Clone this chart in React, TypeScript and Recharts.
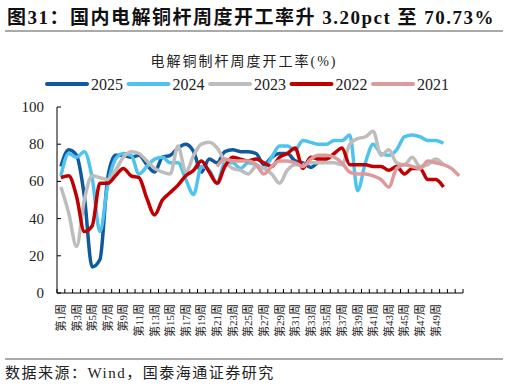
import { LineChart, Line, XAxis, YAxis } from "recharts";

const WEEKS = Array.from({ length: 52 }, (_, i) => `第${i + 1}周`);
// the source only labels odd weeks up to week 49
const LAST_LABELLED = 49;

// weekly rod-mill run rate, % (2025 ends at week 34)
const Y2025 = [
  68, 77, 74, 52, 14, 18, 62, 74, 74, 73, 74, 69, 65, 73, 74, 78, 80, 76, 65, 72,
  70, 76, 77, 76, 76, 75, 69, 73, 75, 75, 71, 70, 67.53, 70.73,
];
const Y2024 = [
  63, 75, 73, 76, 62, 33, 58, 72, 75, 74, 64, 68, 72, 73, 70, 70, 61, 53, 68, 66,
  59, 70, 70, 67, 70, 69, 67, 73, 79, 79, 77, 82, 81, 80, 80, 82, 82, 85, 55, 70,
  80, 75, 74, 77, 84, 85, 84, 82, 82, 80.5,
];
const Y2023 = [
  57, 43, 25, 50, 63, 62, 61, 66, 73, 76, 75, 71, 67, 65, 64, 79, 65, 74, 80, 81,
  78, 71, 67, 66, 64, 68, 67, 64, 59, 66, 69, 69, 70, 70, 70, 70, 69, 80, 83, 84,
  87, 74, 77, 70, 69, 73, 68, 69, 72, 69,
];
const Y2022 = [
  62, 63, 52, 33, 36, 59, 59, 63, 67, 63, 62, 51, 42, 50, 54, 58, 63, 66, 71, 65,
  59, 68, 73, 72, 71, 72, 70, 68, 73, 75, 78, 67, 73, 72, 72, 75, 78, 69, 69, 69,
  68, 68, 66, 68, 64, 67, 67, 61, 61, 57,
];
// 2021 starts at week 21
const Y2021_FROM = 21;
const Y2021 = [
  68, 72, 71, 71, 71, 69, 64, 68, 71, 71, 70, 68, 72, 74, 74, 73, 70, 65, 64, 64,
  63, 61, 57, 67, 69, 68, 67, 71, 70, 69, 67, 63,
];
const Y_TICKS = [0, 20, 40, 60, 80, 100];

const SERIES = [
  { key: "y2025", name: "2025", color: "#0F5A9F" },
  { key: "y2024", name: "2024", color: "#4FC3F0" },
  { key: "y2023", name: "2023", color: "#BDBDBD" },
  { key: "y2022", name: "2022", color: "#C00000" },
  { key: "y2021", name: "2021", color: "#DE9A9A" },
];

const data = WEEKS.map((week, i) => ({
  week,
  y2025: Y2025[i] ?? null,
  y2024: Y2024[i] ?? null,
  y2023: Y2023[i] ?? null,
  y2022: Y2022[i] ?? null,
  y2021: i >= Y2021_FROM - 1 ? Y2021[i - (Y2021_FROM - 1)] ?? null : null,
}));

const SERIF = '"Times New Roman", "Liberation Serif", "Noto Sans CJK SC", serif';
const PLOT_W = 406;
const BAND = PLOT_W / WEEKS.length;

function WeekTick(props: any) {
  const { x, y, payload, index } = props;
  const left = x - BAND / 2;
  return (
    <g>
      <line x1={left} x2={left} y1={y} y2={y - 4} stroke="#000" />
      {index === WEEKS.length - 1 && (
        <line x1={x + BAND / 2} x2={x + BAND / 2} y1={y} y2={y - 4} stroke="#000" />
      )}
      {index % 2 === 0 && index < LAST_LABELLED && (
        <text
          transform={`translate(${x},${y + 11}) rotate(-90)`}
          textAnchor="end"
          dominantBaseline="central"
          fontSize={11}
          fontFamily={SERIF}
          fill="#222"
        >
          {payload.value}
        </text>
      )}
    </g>
  );
}

function ValueTick(props: any) {
  const { x, y, payload } = props;
  return (
    <g>
      <line x1={x} x2={x + 4} y1={y} y2={y} stroke="#000" />
      <text
        x={x - 13}
        y={y}
        textAnchor="end"
        dominantBaseline="central"
        fontSize={15}
        fontFamily={SERIF}
        fill="#222"
      >
        {payload.value}
      </text>
    </g>
  );
}

export default function App() {
  return (
    <div style={{ position: "absolute", left: 0, top: 0, width: 510, height: 385, background: "#fff" }}>
      <div style={{ position: "absolute", left: 0, top: 0 }}>
        <LineChart
          width={510}
          height={385}
          data={data}
          margin={{ top: 107, right: 47, left: 7, bottom: 0 }}
        >
          <XAxis
            dataKey="week"
            interval={0}
            tickSize={0}
            tickMargin={0}
            tickLine={false}
            height={92}
            padding={{ left: BAND / 2, right: BAND / 2 }}
            axisLine={{ stroke: "#000" }}
            tick={<WeekTick />}
          />
          <YAxis
            domain={[0, 100]}
            ticks={Y_TICKS}
            width={50}
            tickSize={0}
            tickMargin={0}
            tickLine={false}
            axisLine={{ stroke: "#000" }}
            tick={<ValueTick />}
          />
          {SERIES.map((s) => (
            <Line
              key={s.key}
              type="monotone"
              dataKey={s.key}
              name={s.name}
              stroke={s.color}
              strokeWidth={3.5}
              dot={false}
              activeDot={false}
              isAnimationActive={false}
            />
          ))}
        </LineChart>
      </div>
      <svg
        width={510}
        height={385}
        style={{ position: "absolute", left: 0, top: 0, pointerEvents: "none" }}
      >
        <text x={7} y={24} fontSize={19} fontWeight="bold" fontFamily={SERIF} fill="#111" letterSpacing={1.5}>
          图31：国内电解铜杆周度开工率升 3.20pct 至 70.73%
        </text>
        <line x1={5} x2={503} y1={31} y2={31} stroke="#555" />
        <text
          x={244}
          y={66}
          textAnchor="middle"
          fontSize={14}
          fontFamily={SERIF}
          fill="#222"
          letterSpacing={2}
        >
          电解铜制杆周度开工率(%)
        </text>
        {SERIES.map((s, i) => {
          const lx = 47 + i * 81.5;
          return (
            <g key={s.key}>
              <line x1={lx} x2={lx + 40} y1={84} y2={84} stroke={s.color} strokeWidth={4} strokeLinecap="round" />
              <text x={lx + 44} y={90} fontSize={16} fontFamily={SERIF} fill="#222">
                {s.name}
              </text>
            </g>
          );
        })}
        <line x1={5} x2={503} y1={359} y2={359} stroke="#555" />
        <text x={5} y={378} fontSize={15} fontFamily={SERIF} fill="#222" letterSpacing={1.5}>
          数据来源：Wind，国泰海通证券研究
        </text>
      </svg>
    </div>
  );
}
